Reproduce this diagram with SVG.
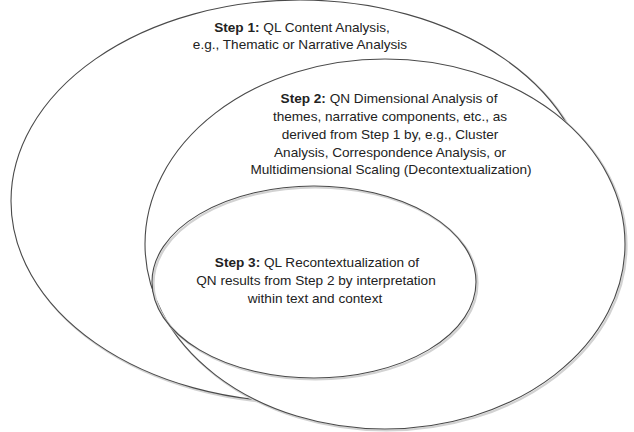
<svg xmlns="http://www.w3.org/2000/svg" width="634" height="432" viewBox="0 0 634 432">
<style>
.sh{fill:none;stroke:#d2d2d2;stroke-width:2.2}
.el{fill:#fff;stroke:#4a4a4a;stroke-width:1.1}
.el3{fill:none;stroke:#4a4a4a;stroke-width:1.1}
text{font-family:"Liberation Sans",Arial,sans-serif;font-size:13.6px;fill:#222;text-anchor:middle}
.b{font-weight:bold}
</style>
<rect width="634" height="432" fill="#fff"/>
<g id="step1">
<ellipse class="sh" cx="301.5" cy="202.5" rx="289" ry="201"/>
<ellipse class="el" cx="300" cy="201" rx="289" ry="201"/>
<text x="302" y="32"><tspan class="b">Step 1:</tspan> QL Content Analysis,</text>
<text x="300" y="49">e.g., Thematic or Narrative Analysis</text>
</g>
<g id="step2">
<ellipse class="sh" cx="386.5" cy="245.5" rx="240" ry="185"/>
<ellipse class="el" cx="385" cy="244" rx="240" ry="185"/>
<text x="389" y="103"><tspan class="b">Step 2:</tspan> QN Dimensional Analysis of</text>
<text x="390" y="121">themes, narrative components, etc., as</text>
<text x="390" y="139">derived from Step 1 by, e.g., Cluster</text>
<text x="390" y="157">Analysis, Correspondence Analysis, or</text>
<text x="391" y="174">Multidimensional Scaling (Decontextualization)</text>
</g>
<g id="step3">
<ellipse class="sh" cx="315.5" cy="283.5" rx="162" ry="96"/>
<ellipse class="el3" cx="314" cy="282" rx="162" ry="96"/>
<text x="317" y="267"><tspan class="b">Step 3:</tspan> QL Recontextualization of</text>
<text x="316" y="285">QN results from Step 2 by interpretation</text>
<text x="315" y="303">within text and context</text>
</g>
<g id="connectors"/>
</svg>
